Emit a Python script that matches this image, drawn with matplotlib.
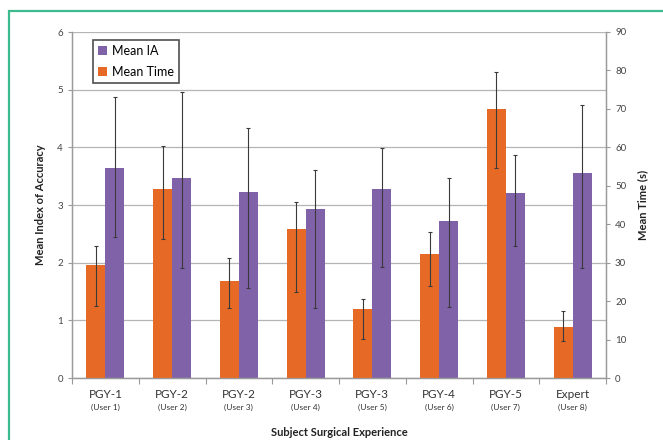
import matplotlib
matplotlib.use("Agg")
import matplotlib.pyplot as plt
from matplotlib.patches import Rectangle
from matplotlib.transforms import blended_transform_factory
import numpy as np

plt.rcParams['font.family'] = ['Lato', 'DejaVu Sans']

# data
groups = ['PGY-1', 'PGY-2', 'PGY-2', 'PGY-3', 'PGY-3', 'PGY-4', 'PGY-5', 'Expert']
users = ['(User 1)', '(User 2)', '(User 3)', '(User 4)', '(User 5)', '(User 6)', '(User 7)', '(User 8)']

mean_ia = [3.65, 3.47, 3.23, 2.93, 3.28, 2.73, 3.20, 3.56]
ia_hi = [4.87, 4.96, 4.34, 3.60, 3.98, 3.47, 3.87, 4.74]
ia_lo = [2.45, 1.90, 1.56, 1.22, 1.92, 1.23, 2.29, 1.91]

mean_time = [29.4, 49.2, 25.3, 38.8, 18.0, 32.3, 69.9, 13.3]
time_hi = [34.4, 60.4, 31.2, 45.7, 20.6, 38.1, 79.6, 17.5]
time_lo = [18.7, 36.1, 18.3, 22.4, 10.1, 23.9, 54.6, 9.6]

purple = '#8062A9'
orange = '#E66A25'
errc = '#3a3a3a'
grey = '#9a9a9a'

fig = plt.figure(figsize=(6.63, 4.4), dpi=100)
fig.patches.append(Rectangle((9 / 663, -0.1), 1.2, 1 - 11 / 440 + 0.1,
                             transform=fig.transFigure, fill=False,
                             edgecolor='#3DBB8F', lw=1.6))

ax = fig.add_axes([72 / 663, 1 - 378 / 440, 534 / 663, 346 / 440])
ax2 = ax.twinx()

x = np.arange(len(groups))
w = 0.285

ia = np.array(mean_ia)
tm = np.array(mean_time)
ia_err = [ia - np.array(ia_lo), np.array(ia_hi) - ia]
tm_err = [tm - np.array(time_lo), np.array(time_hi) - tm]

ax.bar(x + w / 2, ia, w, color=purple, label='Mean IA', zorder=2)
ax.errorbar(x + w / 2, ia, yerr=ia_err, fmt='none', ecolor=errc,
            elinewidth=0.8, capsize=1.5, capthick=0.8, zorder=3)
ax2.bar(x - w / 2, tm, w, color=orange, label='Mean Time', zorder=2)
ax2.errorbar(x - w / 2, tm, yerr=tm_err, fmt='none', ecolor=errc,
             elinewidth=0.8, capsize=1.5, capthick=0.8, zorder=3)

ax.set_xlim(-0.5, len(groups) - 0.5)
ax.set_ylim(0, 6)
ax2.set_ylim(0, 90)
ax.set_yticks(range(0, 7))
ax2.set_yticks(range(0, 91, 10))
ax.yaxis.grid(True, color='#b5b5b5', lw=0.9, zorder=0)
ax.set_axisbelow(True)

for a in (ax, ax2):
    for s in a.spines.values():
        s.set_color(grey)
        s.set_linewidth(0.9)
    a.spines['top'].set_visible(False)
    a.tick_params(axis='y', colors=grey, labelcolor='#444444', labelsize=7,
                  length=3, width=0.8)

# category separators as x ticks, labels drawn as text
ax.set_xticks(np.arange(-0.5, len(groups), 1.0))
ax.set_xticklabels([])
ax.tick_params(axis='x', colors=grey, length=4, width=0.8)

tr = blended_transform_factory(ax.transData, ax.transAxes)
for i in range(len(groups)):
    ax.text(x[i], -0.033, groups[i], transform=tr, ha='center', va='top',
            fontsize=8.5, color='#333333')
    ax.text(x[i], -0.076, users[i], transform=tr, ha='center', va='top',
            fontsize=6, color='#333333')

ax.set_ylabel('Mean Index of Accuracy', fontsize=8, fontweight='bold',
              color='#222222', labelpad=8)
ax2.set_ylabel('Mean Time (s)', fontsize=8, fontweight='bold',
               color='#222222', rotation=90, labelpad=8)
fig.text(339 / 663, 1 - 432 / 440, 'Subject Surgical Experience',
         ha='center', va='center', fontsize=8, fontweight='bold',
         color='#222222')

h1, l1 = ax.get_legend_handles_labels()
h2, l2 = ax2.get_legend_handles_labels()
leg = ax2.legend(h1 + h2, l1 + l2, loc='upper left',
                 bbox_to_anchor=(21 / 534, 1 - 8 / 346),
                 fontsize=9, frameon=True, fancybox=False,
                 handlelength=0.7, handleheight=0.7, handletextpad=0.4,
                 borderpad=0.4, labelspacing=0.7, borderaxespad=0)
leg.get_frame().set_edgecolor('#222222')
leg.get_frame().set_linewidth(1.2)

fig.savefig('out.png', dpi=100)
